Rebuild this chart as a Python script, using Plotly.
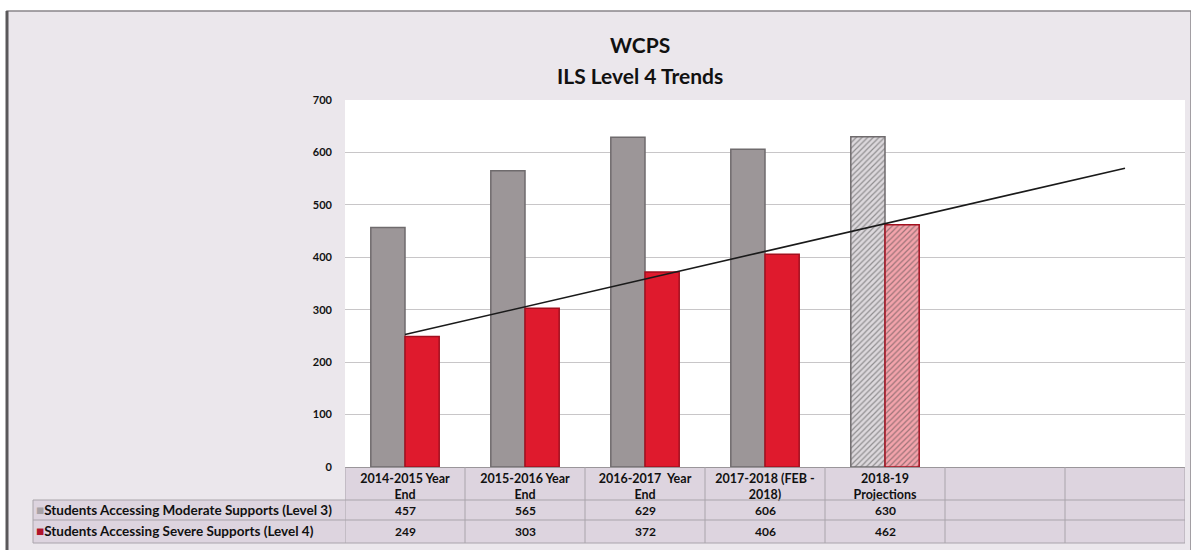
import numpy as np
import plotly.graph_objects as go

categories = ["2014-2015 Year<br>End", "2015-2016 Year<br>End", "2016-2017  Year<br>End",
              "2017-2018 (FEB -<br>2018)", "2018-19<br>Projections", " ", "  "]
moderate = [457, 565, 629, 606, 630]
severe = [249, 303, 372, 406, 462]
series_names = ["Students Accessing Moderate Supports (Level 3)",
                "Students Accessing Severe Supports (Level 4)"]
y_ticks = [0, 100, 200, 300, 400, 500, 600, 700]

W, H = 1191, 550
L, R, T, B = 345, 1185, 100, 467
def fx(px):
    return (px - L) / (R - L)
def fy(py):
    return (B - py) / (B - T)

FONT = "Lato"
n = len(moderate)
pat = [""] * (n - 1) + ["/"]

fig = go.Figure()
fig.add_trace(go.Bar(
    x=categories[:n], y=moderate, name=series_names[0],
    marker=dict(color=["#9c9698"] * (n - 1) + ["#dcd8dc"],
                line=dict(color="#6f6b6d", width=1.5),
                pattern=dict(shape=pat, fgcolor="#aea8ae", size=4, solidity=0.3)),
    showlegend=False))
fig.add_trace(go.Bar(
    x=categories[:n], y=severe, name=series_names[1],
    marker=dict(color=["#df1a2d"] * (n - 1) + ["#f3a3ab"],
                line=dict(color="#a3101f", width=1.5),
                pattern=dict(shape=pat, fgcolor="#e86a78", size=4, solidity=0.3)),
    showlegend=False))

# linear trendline of severe series, forecast to all columns
xs = np.arange(1, n + 1)
slope, intercept = np.polyfit(xs, severe, 1)
trend = slope * np.arange(1, len(categories) + 1) + intercept
fig.add_trace(go.Scatter(x=categories, y=trend, mode="lines",
                         line=dict(color="#1a1a1a", width=1.6), showlegend=False))

shapes = []
shapes.append(dict(type="rect", xref="paper", yref="paper",
                   x0=fx(7), x1=fx(1191), y0=fy(552), y1=fy(11),
                   fillcolor="#ebe7ec", line=dict(color="#8a878a", width=1.5), layer="below"))
shapes.append(dict(type="line", xref="paper", yref="paper",
                   x0=fx(7), x1=fx(7), y0=fy(552), y1=fy(11),
                   line=dict(color="#5a585a", width=3), layer="below"))
shapes.append(dict(type="rect", xref="paper", yref="paper", x0=0, x1=1, y0=0, y1=1,
                   fillcolor="white", line=dict(width=0), layer="below"))
shapes.append(dict(type="rect", xref="paper", yref="paper", x0=0, x1=1, y0=fy(543), y1=0,
                   fillcolor="#ddd4df", line=dict(width=0), layer="below"))
shapes.append(dict(type="rect", xref="paper", yref="paper", x0=fx(33), x1=0, y0=fy(543), y1=fy(500),
                   fillcolor="#ddd4df", line=dict(width=0), layer="below"))
grid = "#a9a4ab"
for py in [500, 520, 543]:
    shapes.append(dict(type="line", xref="paper", yref="paper", x0=fx(33), x1=1,
                       y0=fy(py), y1=fy(py), line=dict(color=grid, width=1)))
shapes.append(dict(type="line", xref="paper", yref="paper", x0=fx(33), x1=fx(33),
                   y0=fy(543), y1=fy(500), line=dict(color=grid, width=1)))
for i in range(len(categories) + 1):
    shapes.append(dict(type="line", xref="x", yref="paper", x0=i - 0.5, x1=i - 0.5,
                       y0=fy(543), y1=0, line=dict(color=grid, width=1)))

annotations = []
annotations.append(dict(xref="paper", yref="paper", x=fx(640), y=fy(45), showarrow=False,
                        text="WCPS", yanchor="middle",
                        font=dict(family=FONT, size=21, color="#111", weight="bold")))
annotations.append(dict(xref="paper", yref="paper", x=fx(640), y=fy(75), showarrow=False,
                        text="ILS Level 4 Trends", yanchor="middle",
                        font=dict(family=FONT, size=21, color="#111", weight="bold")))
rows = [(moderate, 510, "#a7a2a6"), (severe, 531, "#b0132a")]
for (vals, py, col), name in zip(rows, series_names):
    annotations.append(dict(xref="paper", yref="paper", x=fx(34), y=fy(py), xanchor="left",
                            yanchor="middle", showarrow=False,
                            text=f"<span style='color:{col}'>■</span>{name}",
                            font=dict(family=FONT, size=13.5, color="#111", weight="bold")))
    for c, v in zip(categories, vals):
        annotations.append(dict(xref="x", yref="paper", x=c, y=fy(py), showarrow=False,
                                yanchor="middle", text=str(v),
                                font=dict(family=FONT, size=12, color="#111", weight="bold")))

fig.update_layout(
    width=W, height=H,
    margin=dict(l=L, r=W - R, t=T, b=H - B),
    paper_bgcolor="white", plot_bgcolor="rgba(0,0,0,0)",
    barmode="group", bargap=0.43, bargroupgap=0,
    xaxis=dict(categoryorder="array", categoryarray=categories, range=[-0.5, len(categories) - 0.5],
               showgrid=False, showline=True, linecolor="#9a969a", ticks="",
               tickfont=dict(family=FONT, size=12.5, color="#111", weight="bold")),
    yaxis=dict(range=[0, 700], tickvals=y_ticks, showgrid=True, gridcolor="#c8c6c8",
               zeroline=False, showline=False, ticklabelstandoff=12,
               tickfont=dict(family=FONT, size=11, color="#111", weight="bold")),
    shapes=shapes, annotations=annotations,
)
fig.write_html("out.html", config={"displayModeBar": False},
               post_script="document.body.style.margin='0';document.body.style.overflow='hidden';")
